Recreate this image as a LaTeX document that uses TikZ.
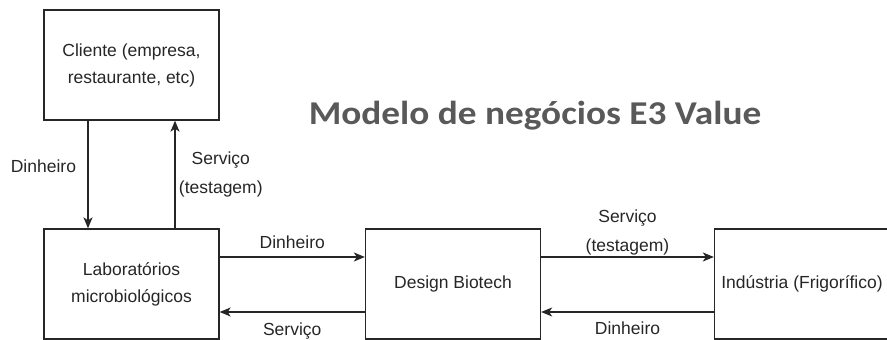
\documentclass[tikz,border=0pt]{standalone}
\usepackage{fontspec}
\setmainfont{Liberation Sans}
\newfontfamily\titlefont{Carlito}
\usetikzlibrary{arrows.meta}
\definecolor{linha}{HTML}{262626}
\definecolor{titulo}{HTML}{595959}
\begin{document}
\begin{tikzpicture}[x=1pt,y=-1pt,
        ator/.style={draw=linha,line width=1.3pt,rectangle,minimum width=175pt,minimum height=110pt,align=center,text=linha,font=\fontsize{17.5}{27}\selectfont},
        fluxo/.style={draw=linha,line width=1.3pt,-{Stealth[length=11pt,width=9pt,inset=3pt]}},
        rotulo/.style={text=linha,align=center,font=\fontsize{17.5}{29}\selectfont}]
        \useasboundingbox (0,0) rectangle (887,340);
        \clip (0,0) rectangle (887,340);
        \node[ator] (cliente) at (131.5,65) {Cliente (empresa,\\restaurante, etc)};
        \node[ator] (lab) at (131.5,284) {Laboratórios\\microbiológicos};
        \node[ator] (design) at (453,284) {Design Biotech};
        \node[ator] (industria) at (802,284) {Indústria (Frigorífico)};
        \node[font=\titlefont\bfseries\fontsize{33.3}{38}\selectfont,text=titulo,xscale=1.12,transform shape] (titulo) at (535,116) {Modelo de negócios E3 Value};
        \draw[fluxo] ([xshift=-43.5pt]cliente.south) -- node[rotulo,pos=0.42,left=8pt] {Dinheiro} ([xshift=-43.5pt]lab.north);
        \draw[fluxo] ([xshift=43.5pt]lab.north) -- node[rotulo,right=0pt] {Serviço\\(testagem)} ([xshift=43.5pt]cliente.south);
        \draw[fluxo] ([yshift=27pt]lab.east) -- node[rotulo,above=4pt] {Dinheiro} ([yshift=27pt]design.west);
        \draw[fluxo] ([yshift=-28pt]design.west) -- node[rotulo,below=7pt] {Serviço} ([yshift=-28pt]lab.east);
        \draw[fluxo] ([yshift=27pt]design.east) -- node[rotulo,above=-2pt] {Serviço\\(testagem)} ([yshift=27pt]industria.west);
        \draw[fluxo] ([yshift=-28pt]industria.west) -- node[rotulo,below=6pt] {Dinheiro} ([yshift=-28pt]design.east);
    \end{tikzpicture}
\end{document}
